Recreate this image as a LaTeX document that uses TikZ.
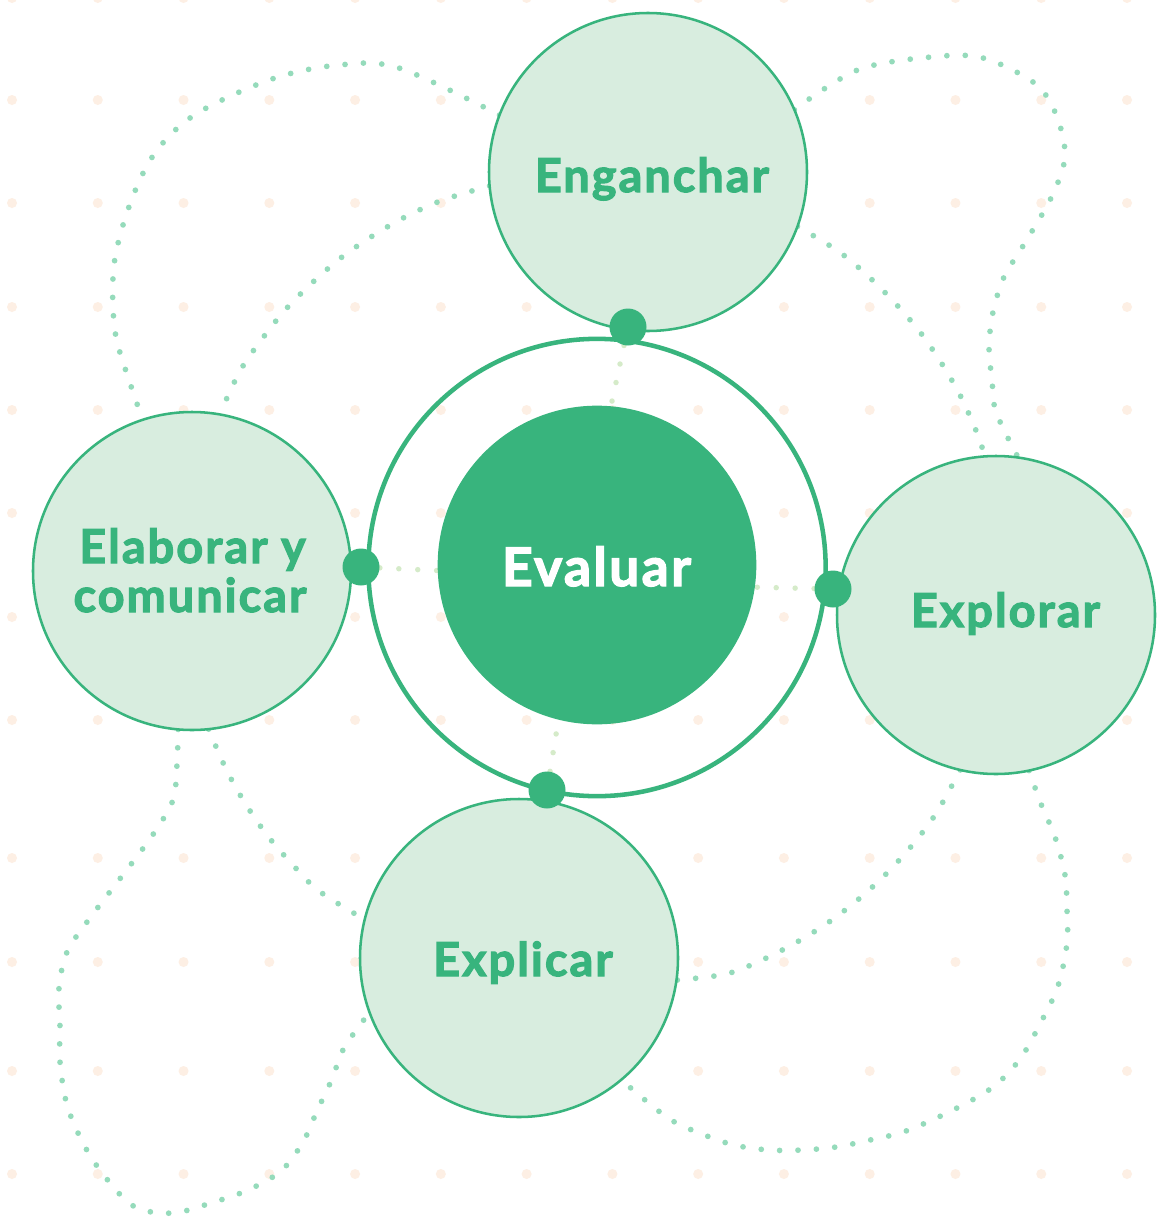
\documentclass[tikz,border=0pt]{standalone}
\usepackage{fontspec}
\newfontfamily\latofont{Lato}[BoldFeatures={FakeBold=2.5}, LetterSpace=4.5]
\definecolor{grn}{RGB}{56,180,125}
\definecolor{lfill}{RGB}{216,237,223}
\definecolor{mint}{RGB}{149,219,187}
\definecolor{lline}{RGB}{213,235,201}
\definecolor{peach}{RGB}{253,239,228}
\begin{document}
\begin{tikzpicture}[x=0.75pt,y=-0.75pt,
  bub/.style={circle, draw=grn, line width=1.9pt, fill=lfill, minimum size=238.5pt, inner sep=0pt, outer sep=0pt},
  evbub/.style={circle, fill=grn, minimum size=239pt, inner sep=0pt, outer sep=0pt},
  ringc/.style={circle, draw=grn, line width=3.4pt, minimum size=343pt, inner sep=0pt, outer sep=0pt},
  rdot/.style={circle, fill=grn, minimum size=27.75pt, inner sep=0pt, outer sep=0pt},
  mintdot/.style={draw=mint, line width=4.3pt, line cap=round, dash pattern=on 0pt off 13.8pt},
  lldot/.style={draw=lline, line width=4.1pt, line cap=round, dash pattern=on 0pt off 14.2pt},
  lbl/.style={text=grn, font=\latofont\bfseries\fontsize{35}{42}\selectfont, inner sep=0pt, anchor=base},
  evlbl/.style={text=white, font=\latofont\bfseries\fontsize{40}{48}\selectfont, inner sep=0pt, anchor=base}]
\fill[white] (0,0) rectangle (1161,1217);
\useasboundingbox (0,0) rectangle (1161,1217);
% background dot grid
\foreach \y in {-2,100,203,307,410,513,617,720,858,962,1071,1174}
  \foreach \i in {0,...,13}
    \fill[peach] ({12+85.77*\i},\y) circle[radius=3.75pt];
% node placement (drawn later on top)
\path (648,172) coordinate (cEng)
      (192,571) coordinate (cElab)
      (996,615) coordinate (cExpo)
      (519,958) coordinate (cExpl)
      (597,565) coordinate (cEval)
      (597,567.5) coordinate (cRing);
% invisible helper circles for anchors
\node[bub, draw=none, fill=none] (eng) at (cEng) {};
\node[bub, draw=none, fill=none] (elab) at (cElab) {};
\node[bub, draw=none, fill=none] (expo) at (cExpo) {};
\node[bub, draw=none, fill=none] (expl) at (cExpl) {};
\node[evbub, fill=none] (ev) at (cEval) {};
\node[rdot, fill=none] (dTop) at (628,327) {};
\node[rdot, fill=none] (dLeft) at (361,567) {};
\node[rdot, fill=none] (dRight) at (833,589) {};
\node[rdot, fill=none] (dBot) at (547,790) {};
% mint dotted connectors
\draw[mintdot] plot[smooth, tension=0.55] coordinates {(eng.159) (399,68) (339,65) (272,79) (196,114) (155,153) (130,204) (114,265) (115,331) (131,386) (elab.108)};
\draw[mintdot] plot[smooth, tension=0.55] coordinates {(eng.185) (443,200) (407,216) (374,235) (342,257) (313,282) (286,309) (262,339) (240,371) (elab.80)};
\draw[mintdot] plot[smooth, tension=0.55] coordinates {(eng.23) (824,89) (863,68) (921,58) (979,57) (1033,82) (1055,112) (1065,155) (1052,196) (1023,246) (1004,277) (993,312) (989,347) (992,380) (996,412) (expo.82)};
\draw[mintdot] plot[smooth, tension=0.55] coordinates {(eng.-20) (838,251) (868,276) (895,303) (920,332) (942,364) (961,397) (977,433) (expo.94)};
\draw[mintdot] plot[smooth, tension=0.55] coordinates {(expo.-103) (937,812) (914,843) (888,872) (860,898) (829,922) (797,942) (762,960) (726,974) (expl.-8.6)};
\draw[mintdot] plot[smooth, tension=0.55] coordinates {(expo.-78) (1041,804) (1055,837) (1065,875) (1067,910) (1067,943) (1058,986) (1040,1024) (1020,1059) (993,1087) (953,1110) (906,1131) (870,1140) (836,1147) (802,1150) (769,1150) (734,1145) (702,1134) (668,1118) (expl.-50)};
\draw[mintdot] plot[smooth, tension=0.55] coordinates {(elab.-95) (177,764) (173,800) (154,833) (132,863) (109,893) (87,922) (67,952) (59,988) (60,1027) (60,1062) (67,1105) (84,1145) (106,1178) (135,1207) (173,1213) (214,1202) (248,1190) (281,1171) (303,1142) (317,1111) (332,1079) (344,1048) (expl.-160)};
\draw[mintdot] plot[smooth, tension=0.55] coordinates {(elab.-84) (226,769) (245,803) (267,835) (292,864) (319,891) (expl.166)};
% light dotted links to Evaluar
\draw[lldot] (dTop.center) -- (ev.85);
\draw[lldot] (dLeft.center) -- (ev.182);
\draw[lldot] (dRight.center) -- (ev.-8);
\draw[lldot] (dBot.center) -- (ev.-104);
% ring and circles
\node[ringc] (ring) at (cRing) {};
\node[bub] (engB) at (cEng) {};
\node[bub] (elabB) at (cElab) {};
\node[bub] (expoB) at (cExpo) {};
\node[bub] (explB) at (cExpl) {};
\node[evbub] (evB) at (cEval) {};
\node[rdot] (dTopB) at (dTop) {};
\node[rdot] (dLeftB) at (dLeft) {};
\node[rdot] (dRightB) at (dRight) {};
\node[rdot] (dBotB) at (dBot) {};
% labels
\node[lbl] (tEng) at (652,192) {Enganchar};
\node[lbl] (tElab1) at (192.5,563) {Elaborar y};
\node[lbl] (tElab2) at (190,612) {comunicar};
\node[lbl] (tExpo) at (1005.5,627) {Explorar};
\node[lbl] (tExpl) at (523,976) {Explicar};
\node[evlbl] (tEval) at (596.5,586) {Evaluar};
\end{tikzpicture}
\end{document}
